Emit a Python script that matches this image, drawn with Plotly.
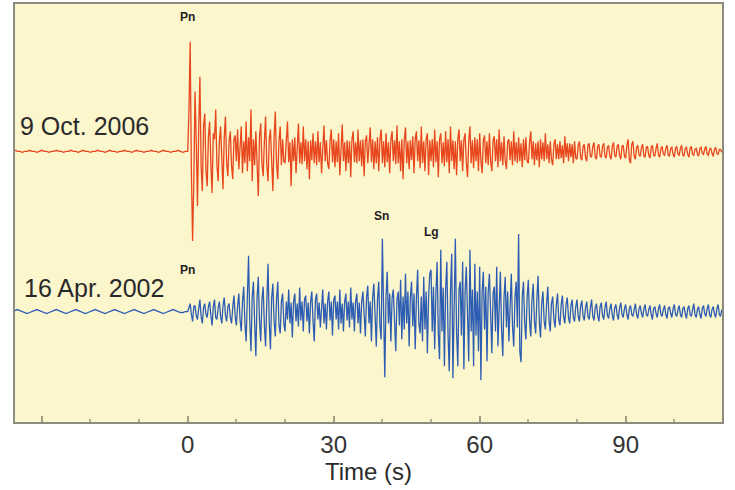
import plotly.graph_objects as go

# ---- data (amplitudes, in screen-pixel-like units) ----
DT = 0.25      # sample spacing after origin time (s)
PRE_DT = 0.5   # sample spacing of the pre-event noise (s)

RED_PRE = [0, 1, 0, 0, -1, 0, 0, 1, 0, 0, -1, 0, 1, 0, 0, -1, 0, 0, 1, 0, 0, -1, 0, 0,
           1, 0, 0, -1, 0, 1, 0, 0, -1, 0, 0, 1, 0, 0, -1, 0, 1, 0, 0, -1, 0, 0, 1, 0,
           0, -1, 0, 1, 0, 0, -1, 0, 0, 1, 0, 0, -1, 0, 1, 0, 0, -1, 0, 0, 1, 0, -1, 0]
RED_POST = [
    0, 40, 110, -20, -90, -30, 60, 10, -55, 20, 75, -15, -40, 25, 38, -20, -35, 15, 30, -12,
    -42, 18, 12, 42, -14, -30, 10, 25, -16, -38, 14, 35, -12, -25, 10, 20, -14, -28, 12, 16,
    -10, 22, -18, 12, 25, -22, 10, -12, 30, -20, 14, -10, 42, -30, 12, -14, 20, -12, -45, 15,
    28, -12, -25, 10, 35, -14, -30, 12, 22, -10, -40, 14, 40, -12, -28, 10, 25, -14, 12, -10,
    -12, 10, 30, -11, 9, -35, 12, -10, 14, -22, 11, 28, -12, 9, -13, 25, -10, 12, -18, 10,
    -28, 11, -9, 18, -12, 10, -14, 20, -11, 9, -22, 12, 26, -10, 11, -12, -18, 10, 22, -11,
    12, -16, 10, -11, 18, -24, 12, 27, -10, 9, -20, 11, -12, 10, -26, 12, 20, -11, 9, -12,
    22, -10, 11, -15, 12, -25, 10, 16, -12, 9, 24, -11, 12, -18, 10, -12, 14, -20, 11, 22,
    -12, 10, -16, 18, -11, 9, -22, 12, 20, -10, 11, -13, 26, -12, 10, -20, 12, -28, 11, 24,
    -12, 10, -18, 11, -9, 15, -22, 12, 20, -10, 11, -17, 25, -12, 10, -20, 12, 18, -24, 11,
    -10, 12, -16, 22, -11, 10, -26, 12, 18, -12, 9, -15, 20, -11, 12, -22, 25, -10, 11, -18,
    10, -24, 12, 22, -10, 11, -20, 12, 18, -11, -26, 10, 25, -12, 11, -17, 14, -10, 12, -20,
    18, -10, -22, 11, 16, -12, 10, -14, 18, -10, -20, 11, 15, -10, 12, -16, 22, -10, 9, -14,
    15, -10, -18, 10, 12, -9, 10, -14, 20, -10, 9, -12, 14, -10, 8, -16, 12, -9, 14, -10,
    -12, 9, 20, -8, 10, -14, 8, -9, 10, -16, 12, -8, 9, -10, 18, -8, 7, -12, 10, -8,
    -14, 7, 12, -8, 7, -8, 10, -7, 6, -12, 15, -6, 8, -10, 8, -6, 7, -12, 10, -7,
    -8, 6, 10, -6, -9, 5, 7, -6, -10, 6, 8, -5, -6, 5, 9, -6, -8, 5, 7, -5,
    -6, 5, 8, -5, -7, 4, 6, -5, -8, 5, 9, -4, -6, 5, 7, -4, -8, 5, 6, -5,
    -7, 6, 12, -8, -12, 7, 10, -5, -8, 4, 6, -4, -5, 4, 7, -5, -6, 4, 5, -4,
    -7, 4, 6, -4, -5, 3, 8, -4, -6, 3, 5, -3, -4, 3, 6, -4, -5, 3, 4, -3,
    -6, 3, 5, -3, -4, 3, 6, -4, -5, 3, 4, -3, -6, 3, 5, -3, -4, 2, 3, -3,
    -5, 3, 4, -2, -3, 2, 5, -3, -4, 2, 3, -2, -5, 2, 4, -2, -3, 2, 2, -1,
]

BLUE_PRE = [0, 1, 2, 1, 0, -1, -2, -1, 0, 1, 2, 1, 0, -1, -2, -1, 0, 1, 2, 1, 0, -1, -2, -1,
            0, 1, 2, 1, 0, -1, -2, -1, 0, 1, 2, 1, 0, -1, -2, -1, 0, 1, 2, 1, 0, -1, -2, -1,
            0, 1, 2, 1, 0, -1, -2, -1, 0, 1, 2, 1, 0, -1, -2, -1, 0, 1, 2, 1, 0, -1, -1, 0]
BLUE_POST = [
    0, 4, 8, -3, -10, 5, 6, -4, -8, 3, 12, -5, -12, 4, 8, -3, -6, 5, 10, -4,
    -14, 5, 12, -6, -8, 4, 10, -5, -12, 6, 14, -4, -10, 5, 8, -6, -12, 4, 16, -5,
    -14, 6, 18, -8, -20, 10, 25, -12, -30, 14, 56, -10, -40, 15, 30, -12, -45, 14, 35, -10,
    -30, 12, 25, -14, -35, 10, 48, -12, -38, 14, 28, -10, -25, 12, 30, -14, -22, 10, 18, -12,
    -20, 10, -8, 22, -12, 9, -26, 10, 18, -10, 8, -15, 24, -9, 10, -20, 12, 16, -10, 9,
    -22, 10, 20, -10, -30, 12, 18, -8, 9, -16, 10, 22, -12, 8, -18, 10, 20, -9, 10, -24,
    12, 16, -8, 10, -18, 22, -12, 8, -20, 10, 18, -9, 10, -16, 24, -8, 9, -20, 10, 18,
    -12, 9, -22, 10, 20, -12, -25, 14, 26, -12, 10, -30, 14, 28, -15, -35, 12, 30, -14, -28,
    73, -20, -66, 15, 40, -12, 18, -30, 14, 22, -15, -40, 12, 20, -14, 32, -28, 15, -18, 38,
    -12, 20, -35, 14, 30, -15, 18, -38, 14, 42, -12, -22, 15, -30, 35, -18, 20, -42, 15, 38,
    42, -20, 25, -38, 18, 50, -22, -48, 62, -20, 24, -55, 22, 50, -24, -60, 20, 58, -67, 24,
    73, -20, -55, 22, 30, -24, 50, -58, 20, 45, -22, -50, 62, -20, 22, -55, 48, -24, 20, -40,
    45, -69, 20, 40, -18, 25, -50, 20, 38, -16, -42, 18, 25, -20, 45, -35, 16, 40, -18, -45,
    14, 35, -16, 20, -30, 14, 38, -15, -35, 14, 30, -16, 78, -40, -51, 15, 30, -12, -28, 14,
    32, -10, -25, 12, 28, -10, -22, 12, 36, -10, -26, 8, 20, -10, -18, 8, 25, -9, -20, 8,
    15, -8, -16, 7, 18, -8, -14, 7, 16, -6, -12, 7, 14, -6, -12, 6, 12, -6, -10, 5,
    12, -5, -10, 6, 11, -5, -9, 4, 10, -5, -8, 4, 12, -5, -9, 4, 8, -4, -10, 5,
    9, -4, -8, 4, 10, -4, -7, 3, 8, -4, -9, 4, 7, -3, -8, 4, 9, -3, -6, 3,
    7, -3, -8, 3, 6, -3, -5, 2, 8, -3, -7, 3, 6, -2, -6, 3, 7, -3, -5, 2,
    6, -3, -8, 3, 5, -2, -6, 3, 7, -3, -5, 2, 6, -3, -7, 3, 5, -2, -6, 3,
    7, -3, -5, 2, 6, -3, -6, 3, 5, -2, -7, 3, 6, -3, -5, 2, 8, -3, -6, 2,
    5, -3, -7, 3, 6, -2, -5, 3, 7, -3, -6, 2, 5, -2, -6, 3, 7, -3, -5, 2,
]

TICK_VALS = [-30, 0, 30, 60, 90]
TICK_TEXT = ["", "0", "30", "60", "90"]
LABELS = ["9 Oct. 2006", "16 Apr. 2002"]
# phase name, time (s), trace, height above that trace's baseline
PHASES = [("Pn", 0.0, "red", 135), ("Pn", 0.0, "blue", 42),
          ("Sn", 39.8, "blue", 96), ("Lg", 50.1, "blue", 80)]

# ---- styling / placement ----
RED_BASE = 272
BLUE_BASE = 111
RED = "#e8461d"
BLUE = "#2d5db3"
BG = "#fcf6cd"
AXC = "#8c8c80"
FONT = "Liberation Sans, Arial, sans-serif"


def series(pre, post, base):
    n = len(pre)
    t = [-(n - i) * PRE_DT for i in range(n)] + [i * DT for i in range(len(post))]
    y = [base + v for v in pre + post]
    return t, y


rt, ry = series(RED_PRE, RED_POST, RED_BASE)
bt, by = series(BLUE_PRE, BLUE_POST, BLUE_BASE)

fig = go.Figure()
fig.add_trace(go.Scatter(x=rt, y=ry, mode="lines", line=dict(color=RED, width=1.3),
                         hoverinfo="skip", showlegend=False))
fig.add_trace(go.Scatter(x=bt, y=by, mode="lines", line=dict(color=BLUE, width=1.3),
                         hoverinfo="skip", showlegend=False))

fig.add_annotation(x=-34.9, y=RED_BASE + 25, text=LABELS[0], showarrow=False,
                   xanchor="left", yanchor="middle", font=dict(size=25, color="#2a2a2a"))
fig.add_annotation(x=-34.1, y=BLUE_BASE + 24, text=LABELS[1], showarrow=False,
                   xanchor="left", yanchor="middle", font=dict(size=25, color="#2a2a2a"))
bases = {"red": RED_BASE, "blue": BLUE_BASE}
for name, t, tr, h in PHASES:
    fig.add_annotation(x=t, y=bases[tr] + h, text="<b>%s</b>" % name, showarrow=False,
                       xanchor="center", yanchor="middle",
                       font=dict(size=12, color="#222222"))

fig.update_layout(
    width=735, height=490,
    margin=dict(l=15, r=13, t=2, b=68),
    paper_bgcolor="white", plot_bgcolor=BG,
    font=dict(family=FONT, color="#333333"),
    xaxis=dict(range=[-35.5, 109.8], tickvals=TICK_VALS, ticktext=TICK_TEXT,
               ticks="inside", ticklen=6, tickwidth=2, tickcolor="#a09e88",
               minor=dict(dtick=10, tick0=0, ticks="inside", ticklen=3, tickwidth=2,
                          tickcolor="#b0ae98"),
               showgrid=False, zeroline=False, showline=True, linecolor=AXC, linewidth=2,
               mirror=True, tickfont=dict(size=24, color="#333333"),
               title=dict(text="Time (s)", font=dict(size=24, color="#2a2a2a"), standoff=0)),
    yaxis=dict(range=[0, 420], showticklabels=False, ticks="", showgrid=False,
               zeroline=False, showline=True, linecolor=AXC, linewidth=2, mirror=True),
)

fig.write_html("out.html", config={"displayModeBar": False},
               post_script="document.body.style.margin='0px';")
